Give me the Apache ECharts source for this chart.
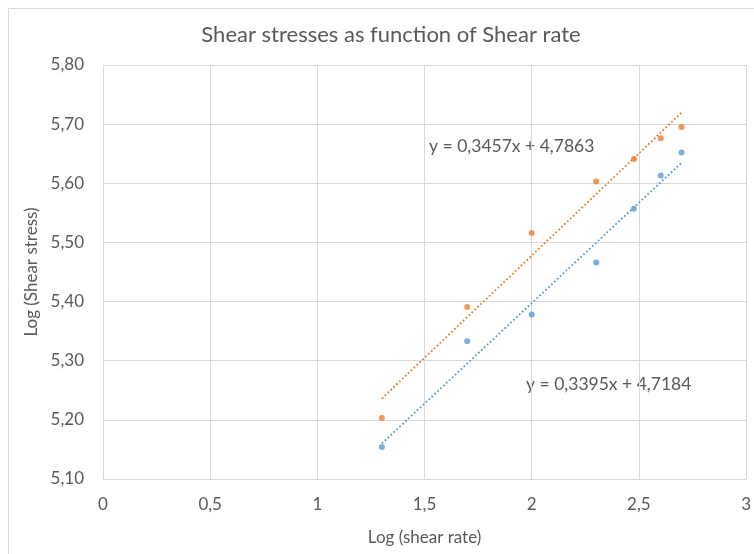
<!DOCTYPE html>
<html>
<head>
<meta charset="utf-8">
<script src="https://cdn.jsdelivr.net/npm/echarts@6/dist/echarts.min.js"></script>
<style>
  html, body { margin: 0; padding: 0; background: #fff; }
  #chart { width: 754px; height: 554px; }
</style>
</head>
<body>
<div id="chart"></div>
<script>
// Log10 of shear rate for each measurement
const logShearRate = [1.301, 1.699, 2.000, 2.301, 2.477, 2.602, 2.699];
// Log10 of shear stress, two sample series
const logStressA = [5.203, 5.391, 5.516, 5.603, 5.641, 5.676, 5.695]; // orange
const logStressB = [5.154, 5.333, 5.378, 5.466, 5.557, 5.613, 5.652]; // blue
// Linear trendline coefficients [slope, intercept]
const trendA = [0.3457, 4.7863];
const trendB = [0.3395, 4.7184];
// Axis ticks
const xTicks = [0, 0.5, 1, 1.5, 2, 2.5, 3];
const yTicks = [5.1, 5.2, 5.3, 5.4, 5.5, 5.6, 5.7, 5.8];

const ORANGE = '#ED7D31';
const BLUE = '#5B9BD5';
const TEXT = '#595959';
const GRID = '#D9D9D9';
const FONT = 'Lato, "Open Sans", sans-serif';

const fmt = (v, d) => v.toFixed(d).replace('.', ',');
const pairs = (xs, ys) => xs.map((x, i) => [x, ys[i]]);
const trendLine = (c) => {
  const x0 = Math.min(...logShearRate), x1 = Math.max(...logShearRate);
  return [[x0, c[0] * x0 + c[1]], [x1, c[0] * x1 + c[1]]];
};
const eqText = (c) => 'y = ' + fmt(c[0], 4) + 'x + ' + fmt(c[1], 4);

const chart = echarts.init(document.getElementById('chart'), null, { renderer: 'canvas' });
chart.setOption({
  backgroundColor: '#fff',
  animation: false,
  title: {
    text: 'Shear stresses as function of Shear rate',
    left: 386, top: 19, textAlign: 'center',
    textStyle: { fontFamily: FONT, fontSize: 22, fontWeight: 'normal', color: TEXT }
  },
  grid: { left: 103, right: 7, top: 65, bottom: 75 },
  xAxis: {
    type: 'value', min: xTicks[0], max: xTicks[xTicks.length - 1], interval: 0.5,
    name: 'Log (shear rate)', nameLocation: 'middle', nameGap: 50,
    nameTextStyle: { fontFamily: FONT, fontSize: 17, color: TEXT },
    axisLine: { show: true, lineStyle: { color: GRID } },
    axisTick: { show: false },
    axisLabel: { fontFamily: FONT, fontSize: 17, color: TEXT, margin: 17,
      formatter: (v) => String(v).replace('.', ',') },
    splitLine: { show: true, lineStyle: { color: GRID } }
  },
  yAxis: {
    type: 'value', min: yTicks[0], max: yTicks[yTicks.length - 1], interval: 0.1,
    name: 'Log (Shear stress)', nameLocation: 'middle', nameGap: 60, nameRotate: 90,
    nameTextStyle: { fontFamily: FONT, fontSize: 17, color: TEXT },
    axisLine: { show: false },
    axisTick: { show: false },
    axisLabel: { fontFamily: FONT, fontSize: 17, color: TEXT, margin: 19,
      formatter: (v) => fmt(v, 2) },
    splitLine: { show: true, lineStyle: { color: GRID } }
  },
  series: [
    {
      type: 'line', data: trendLine(trendA), symbol: 'none', silent: true,
      lineStyle: { color: ORANGE, width: 1.8, type: [1.8, 2.2] }
    },
    {
      type: 'line', data: trendLine(trendB), symbol: 'none', silent: true,
      lineStyle: { color: BLUE, width: 1.8, type: [1.8, 2.2] }
    },
    {
      type: 'scatter', data: pairs(logShearRate, logStressA),
      symbolSize: 6, itemStyle: { color: ORANGE }
    },
    {
      type: 'scatter', data: pairs(logShearRate, logStressB),
      symbolSize: 6, itemStyle: { color: BLUE }
    }
  ],
  graphic: [
    {
      type: 'rect', shape: { x: 8.5, y: 8.5, width: 760, height: 560 },
      style: { fill: 'none', stroke: GRID, lineWidth: 1 }, silent: true
    },
    {
      type: 'text', left: 429, top: 137,
      style: { text: eqText(trendA), font: '17.5px ' + FONT, fill: TEXT }
    },
    {
      type: 'text', left: 526, top: 375,
      style: { text: eqText(trendB), font: '17.5px ' + FONT, fill: TEXT }
    }
  ]
});
</script>
</body>
</html>
